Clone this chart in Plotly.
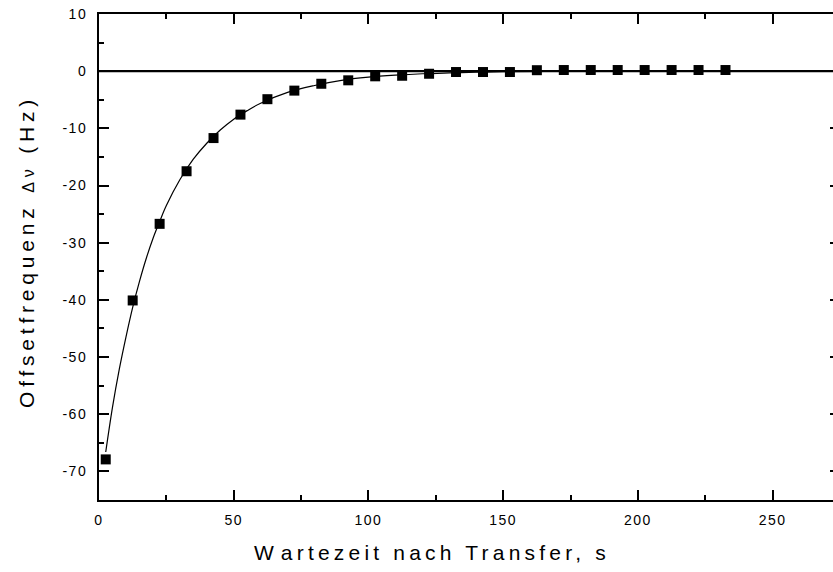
import plotly.graph_objects as go

# measured data
x_data = [2.5, 12.5, 22.5, 32.5, 42.5, 52.5, 62.5, 72.5, 82.5, 92.5, 102.5, 112.5,
          122.5, 132.5, 142.5, 152.5, 162.5, 172.5, 182.5, 192.5, 202.5, 212.5, 222.5, 232.5]
y_data = [-67.9, -40.1, -26.7, -17.5, -11.7, -7.6, -4.9, -3.4, -2.2, -1.6, -0.9, -0.8,
          -0.45, -0.15, -0.15, -0.15, 0.17, 0.2, 0.2, 0.2, 0.2, 0.2, 0.2, 0.2]

# fit curve
x_fit = [2.5, 5, 7.5, 10, 12.5, 15, 17.5, 20, 22.5, 25, 30, 35, 40, 45, 50, 55, 60,
         70, 80, 90, 100, 110, 120, 130, 140, 150, 175, 200, 232.5]
y_fit = [-66.6, -58.8, -52.2, -46.5, -41.3, -36.8, -32.8, -29.3, -26.3, -23.5, -19.0,
         -15.4, -12.6, -10.3, -8.4, -6.9, -5.6, -3.7, -2.5, -1.6, -1.05, -0.7, -0.45,
         -0.3, -0.18, -0.1, -0.03, 0.0, 0.0]

x_ticks = [0, 50, 100, 150, 200, 250]
x_ticklabels = ["0", "50", "100", "150", "200", "250"]
y_ticks = [10, 0, -10, -20, -30, -40, -50, -60, -70]
y_ticklabels = ["10", "0", "-10", "-20", "-30", "-40", "-50", "-60", "-70"]

FONT = "Arial, 'Liberation Sans', sans-serif"
X_RANGE = [0, 272.4]
Y_RANGE = [-75, 10]

L, R, T, B = 99, 0, 14, 72
W, H = 833, 572


def spaced(s, sp):
    return "<span style='letter-spacing:%spx'>%s</span>" % (sp, s)


fig = go.Figure()

# zero line
fig.add_trace(go.Scatter(x=X_RANGE, y=[0, 0], mode="lines",
                         line=dict(color="black", width=2.2), hoverinfo="skip",
                         showlegend=False))
fig.add_trace(go.Scatter(x=x_fit, y=y_fit, mode="lines",
                         line=dict(color="black", width=1.2, shape="spline"),
                         showlegend=False))
fig.add_trace(go.Scatter(x=x_data, y=y_data, mode="markers",
                         marker=dict(symbol="square", size=10, color="black",
                                     line=dict(width=0)),
                         showlegend=False))
# invisible trace for right axis ticks
fig.add_trace(go.Scatter(x=[None], y=[None], yaxis="y2", showlegend=False))

axis_common = dict(showgrid=False, zeroline=False, linecolor="black", linewidth=2,
                   ticks="inside", tickcolor="black", tickwidth=1.5, ticklen=10,
                   tickfont=dict(family=FONT, size=14, color="black"))


def px_to_paper(px, py):
    return (px - L) / (W - L - R), (H - B - py) / (H - T - B)


xt_x, xt_y = px_to_paper(432, 552)
yt_x, yt_y = px_to_paper(26, 252)

fig.update_layout(
    width=W, height=H,
    margin=dict(l=L, r=R, t=T, b=B),
    paper_bgcolor="white", plot_bgcolor="white",
    xaxis=dict(range=X_RANGE, tickvals=x_ticks,
               ticktext=[spaced(t, 1.5) for t in x_ticklabels],
               showline=True, mirror="ticks",
               minor=dict(dtick=25, tick0=0, ticks="inside", ticklen=5,
                          tickwidth=1.5, tickcolor="black"),
               ticklabelstandoff=6,
               **axis_common),
    yaxis=dict(range=Y_RANGE, tickvals=y_ticks,
               ticktext=[spaced(t, 1.5) for t in y_ticklabels],
               showline=True, mirror=False,
               minor=dict(dtick=5, tick0=0, ticks="inside", ticklen=5,
                          tickwidth=1.5, tickcolor="black"),
               ticklabelstandoff=7,
               **axis_common),
    yaxis2=dict(range=Y_RANGE, overlaying="y", side="right", tickvals=y_ticks,
                showticklabels=False, showgrid=False, zeroline=False, showline=False,
                ticks="inside", ticklen=3, tickwidth=1.5, tickcolor="black"),
    annotations=[
        dict(text="<span style='letter-spacing:4.2px'><span style='letter-spacing:7px'>W</span>"
                  "artezeit nach Transfer, s</span>",
             x=xt_x, y=xt_y, xref="paper", yref="paper",
             xanchor="center", yanchor="middle",
             showarrow=False, font=dict(family=FONT, size=21, color="black")),
        dict(text="<span style='letter-spacing:4.8px'>Offsetfrequenz "
                  "<span style='font-size:16px'>\u0394\u03bd</span> (Hz)</span>",
             x=yt_x, y=yt_y, xref="paper", yref="paper",
             xanchor="center", yanchor="middle",
             textangle=-90, showarrow=False,
             font=dict(family=FONT, size=21, color="black")),
    ],
)

fig.write_html("out.html")
